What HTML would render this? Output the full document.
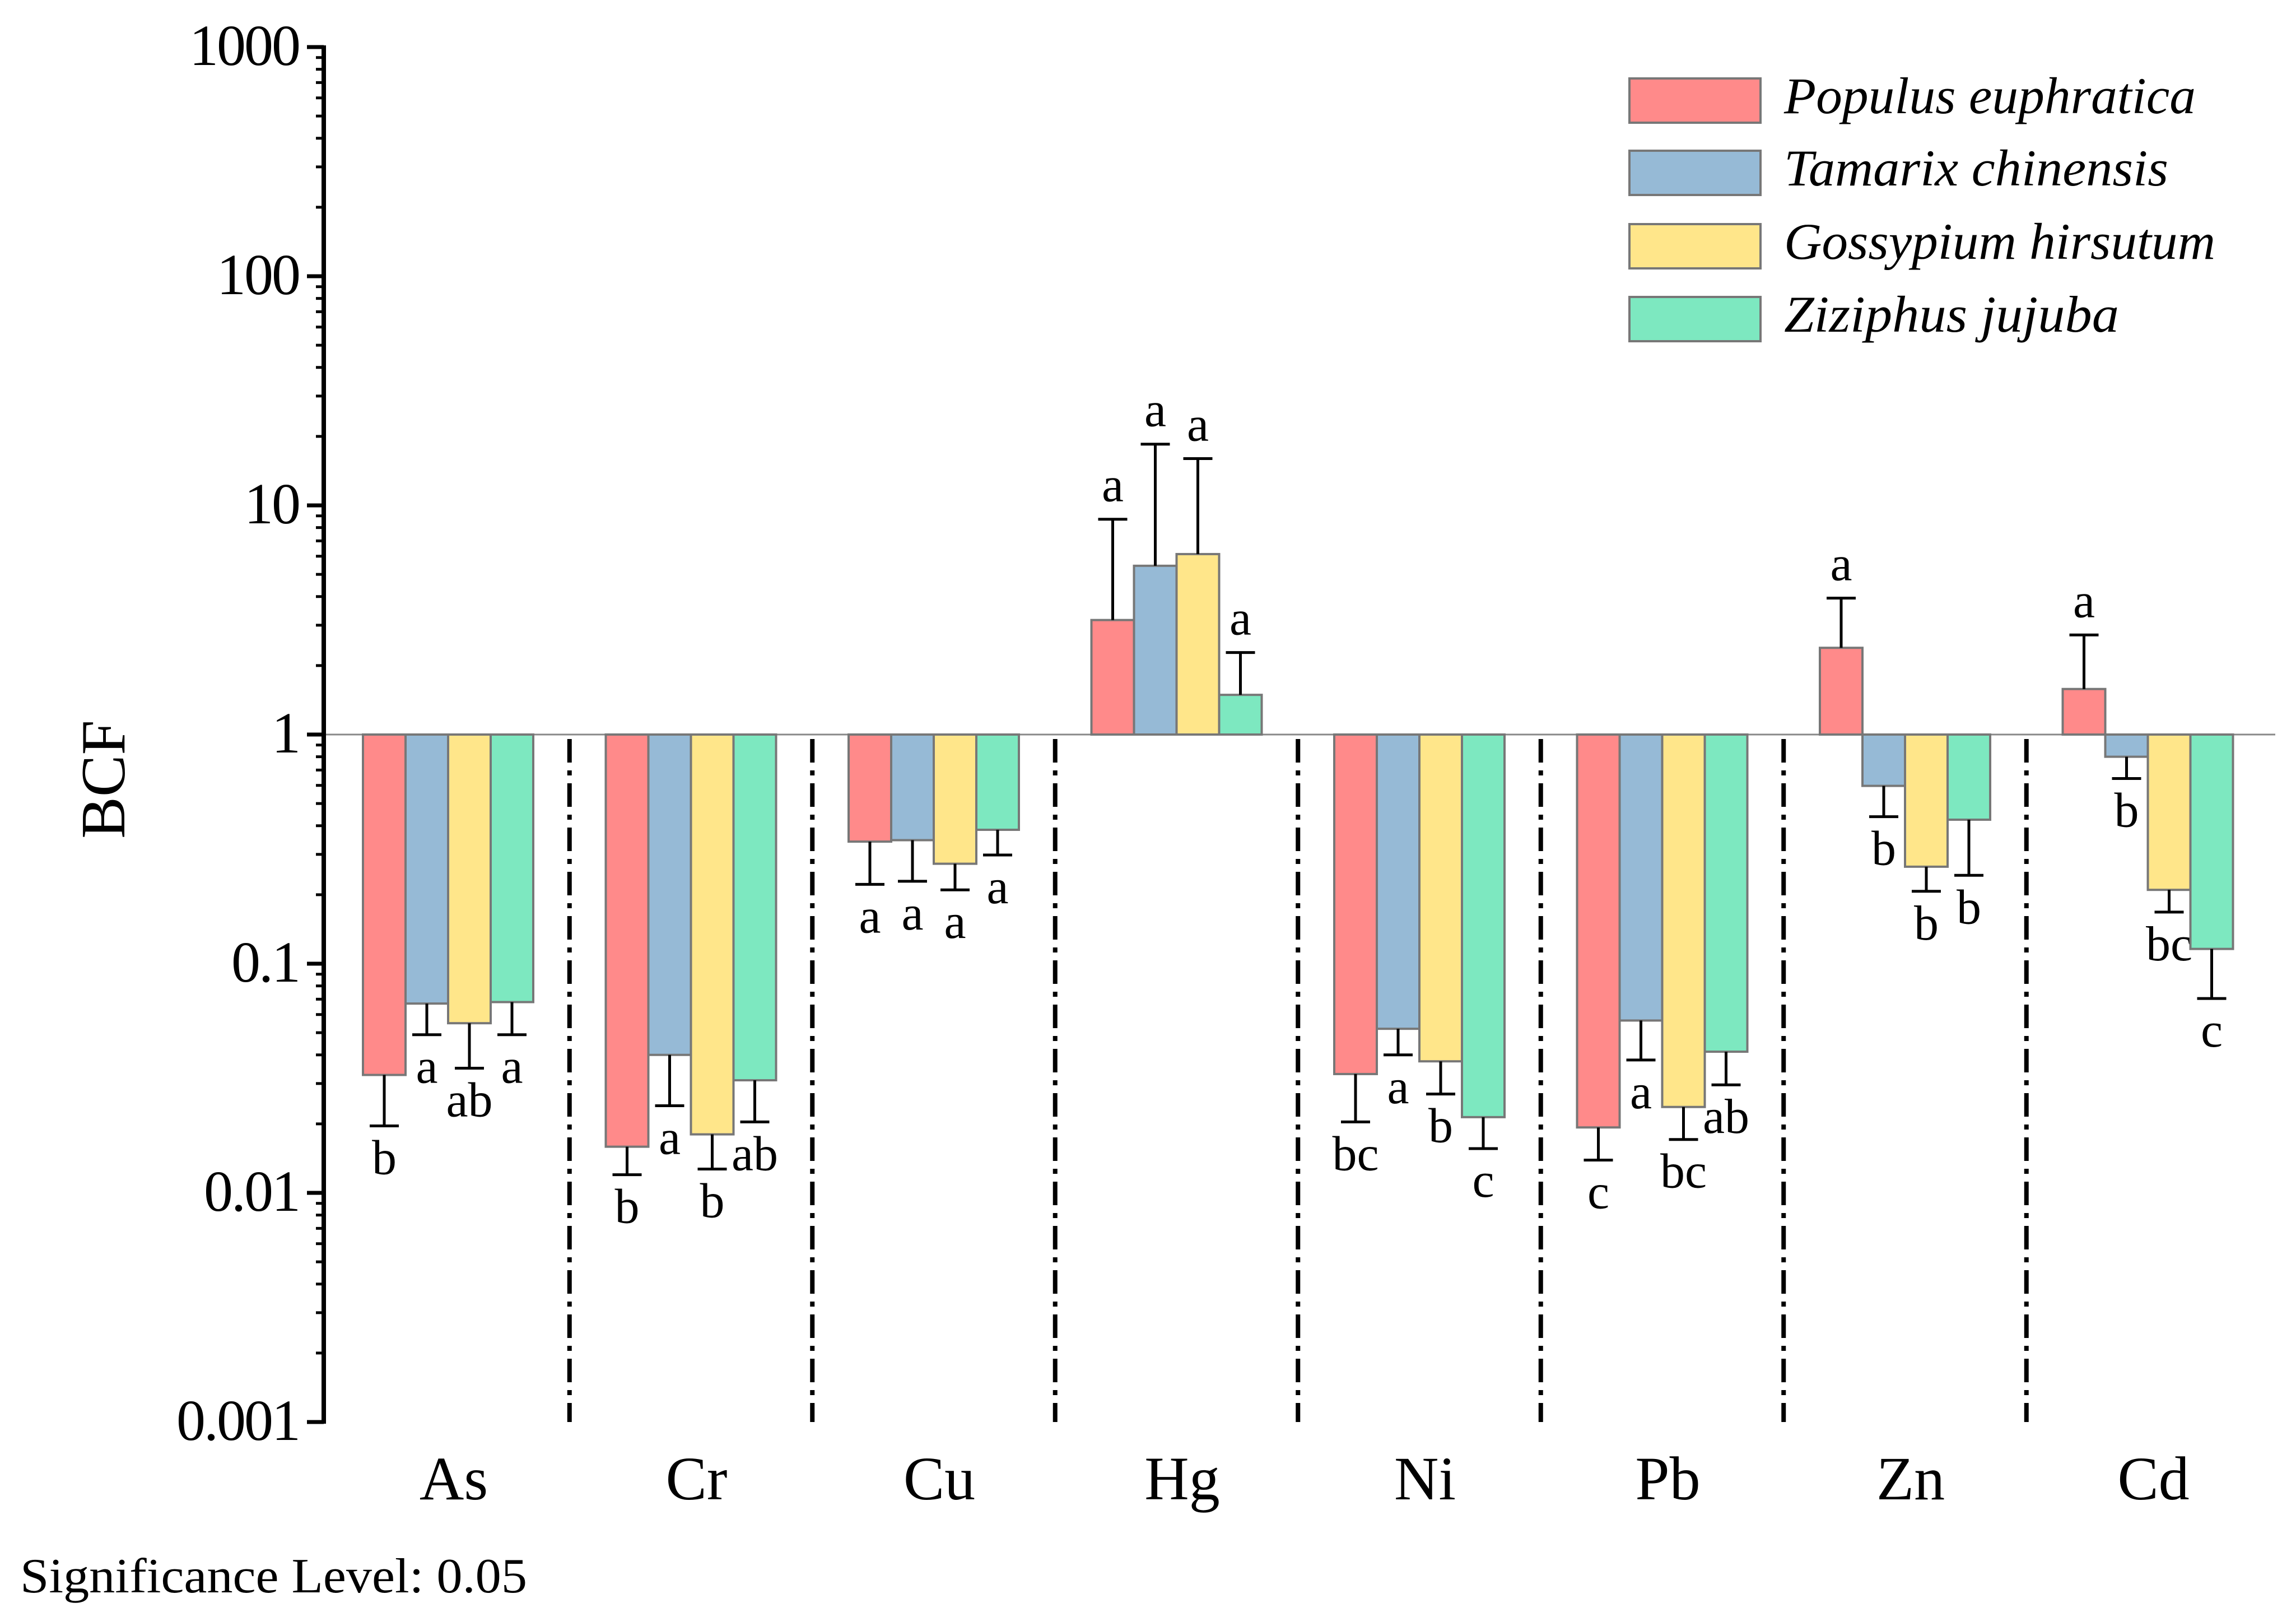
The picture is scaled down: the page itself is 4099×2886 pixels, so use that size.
<!DOCTYPE html>
<html><head><meta charset="utf-8"><style>
html,body{margin:0;padding:0;background:#fff;}
svg{display:block;font-family:"Liberation Serif",serif;}
</style></head><body>
<svg id="chart" width="4099" height="2886" viewBox="0 0 4099 2886" xmlns="http://www.w3.org/2000/svg">
<rect width="4099" height="2886" fill="#fff"/>
<g id="plot"></g>
</svg>
<script>
const categories = ["As","Cr","Cu","Hg","Ni","Pb","Zn","Cd"];
const seriesNames = ["Populus euphratica","Tamarix chinensis","Gossypium hirsutum","Ziziphus jujuba"];
const seriesColors = ["#FF8A8A","#96BAD6","#FFE68A","#7DE8C0"];
const valsPopulus = [0.0327,0.0159,0.341,3.16,0.033,0.0193,2.39,1.58];
const valsTamarix = [0.067,0.040,0.346,5.45,0.052,0.0565,0.597,0.80];
const valsGossypium = [0.055,0.018,0.273,6.13,0.0375,0.0237,0.265,0.21];
const valsZiziphus = [0.068,0.031,0.384,1.49,0.0214,0.0413,0.425,0.116];
const errPopulus = [0.0196,0.012,0.222,8.7,0.0204,0.0139,3.94,2.72];
const errTamarix = [0.049,0.024,0.229,18.5,0.040,0.038,0.438,0.643];
const errGossypium = [0.035,0.0127,0.21,16,0.027,0.0171,0.207,0.168];
const errZiziphus = [0.049,0.0204,0.298,2.28,0.0156,0.0296,0.243,0.0705];
const lblPopulus = ["b","b","a","a","bc","c","a","a"];
const lblTamarix = ["a","a","a","a","a","a","b","b"];
const lblGossypium = ["ab","b","a","a","b","bc","b","bc"];
const lblZiziphus = ["a","ab","a","a","c","ab","b","c"];
const yTicks = [0.001,0.01,0.1,1,10,100,1000];
const yTickLabels = ["0.001","0.01","0.1","1","10","100","1000"];

const vals=[valsPopulus,valsTamarix,valsGossypium,valsZiziphus];
const errs=[errPopulus,errTamarix,errGossypium,errZiziphus];
const lbls=[lblPopulus,lblTamarix,lblGossypium,lblZiziphus];
const NS="http://www.w3.org/2000/svg";
const g=document.getElementById('plot');
const AX=578, Y1=1311, DEC=409;
function y(v){return Y1-Math.log10(v)*DEC;}
function gx(i){return 800+433.5*i;}
const BW=76;
function mk(t,a,txt){const e=document.createElementNS(NS,t);for(const k in a)e.setAttribute(k,a[k]);if(txt!==undefined)e.textContent=txt;g.appendChild(e);return e;}

let e=mk('line',{x1:AX,x2:4062,y1:y(1),y2:y(1),stroke:'#888','stroke-width':3});



for(let i=0;i<categories.length-1;i++){
  const x=(gx(i)+gx(i+1))/2;
  e=mk('line',{x1:x,x2:x,y1:y(1)+8,y2:y(0.001),stroke:'#000','stroke-width':8,'stroke-dasharray':'42 14 9 14'});
  
  
}

for(let s=0;s<4;s++){
  for(let i=0;i<categories.length;i++){
    const v=vals[s][i], ev=errs[s][i];
    const x0=gx(i)-2*BW+s*BW, cx=x0+BW/2;
    const yt=Math.min(y(v),y(1)), yb=Math.max(y(v),y(1));
    e=mk('rect',{x:x0,y:yt,width:BW,height:yb-yt,fill:seriesColors[s],stroke:'#777','stroke-width':4});
    
    
    e=mk('line',{x1:cx,x2:cx,y1:y(v),y2:y(ev),stroke:'#000','stroke-width':5});
    
    
    e=mk('line',{x1:cx-26,x2:cx+26,y1:y(ev),y2:y(ev),stroke:'#000','stroke-width':5});
    
    
    const up=v>=1;
    e=mk('text',{x:cx,y:up?y(ev)-32:y(ev)+86,'text-anchor':'middle','font-size':88},lbls[s][i]);
    
    
  }
}

e=mk('line',{x1:AX,x2:AX,y1:y(1000)-3,y2:y(0.001)+3,stroke:'#000','stroke-width':8});


for(let k=0;k<yTicks.length;k++){
  const yy=y(yTicks[k]);
  e=mk('line',{x1:AX-30,x2:AX,y1:yy,y2:yy,stroke:'#000','stroke-width':7});
  
  
  e=mk('text',{x:AX-44,y:yy+32,'text-anchor':'end','font-size':104,'letter-spacing':'-3'},yTickLabels[k]);
  
  
  if(k<yTicks.length-1){
    for(let m=2;m<=9;m++){
      const ym=y(yTicks[k]*m);
      e=mk('line',{x1:AX-14,x2:AX,y1:ym,y2:ym,stroke:'#000','stroke-width':5});
      
      
    }
  }
}

for(let i=0;i<categories.length;i++){
  e=mk('text',{x:gx(i)+10,y:2676,'text-anchor':'middle','font-size':110},categories[i]);
  
  
}

e=mk('text',{x:0,y:0,'text-anchor':'middle','font-size':112,transform:'translate(222,1391) rotate(-90)'},'BCF');



e=mk('text',{x:36,y:2842,'font-size':88,textLength:905,lengthAdjust:'spacingAndGlyphs'},'Significance Level: 0.05');



const legY=[140,269,400,530];
for(let s=0;s<4;s++){
  e=mk('rect',{x:2909,y:legY[s],width:234,height:79,fill:seriesColors[s],stroke:'#777','stroke-width':4});
  
  
  const w=[735,686,770,598][s];
  e=mk('text',{x:3185,y:legY[s]+62,'font-size':92,'font-style':'italic',textLength:w,lengthAdjust:'spacingAndGlyphs'},seriesNames[s]);
  
  
}
</script>
</body></html>
